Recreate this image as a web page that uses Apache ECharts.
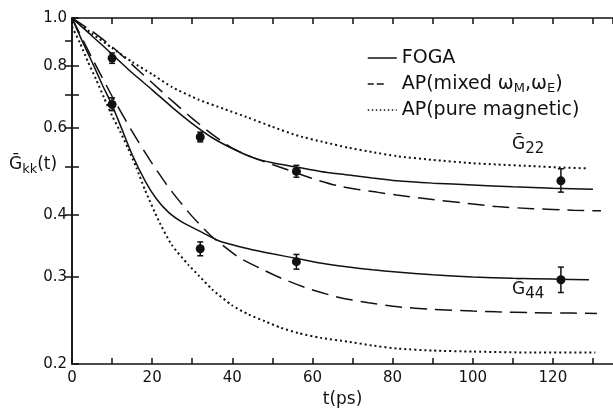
<!DOCTYPE html>
<html>
<head>
<meta charset="utf-8">
<script src="https://cdn.jsdelivr.net/npm/echarts@6/dist/echarts.min.js"></script>
<style>
html, body { margin: 0; padding: 0; background: #fff; }
#chart { width: 613px; height: 413px; }
</style>
</head>
<body>
<div id="chart"></div>
<script>
// tick marks of the log axis
const yTickValues = [0.2, 0.3, 0.4, 0.5, 0.6, 0.7, 0.8, 1.0]
const yLabelValues = [0.2, 0.3, 0.4, 0.6, 0.8, 1.0]
const yRightTicks = [0.3, 0.4, 0.5, 0.6, 0.7, 0.8, 0.9]

// FOGA, G22
const tFoga22 = [0, 5, 10, 15, 20, 25, 30, 35, 40, 45, 50, 56, 62, 69, 75, 81, 90, 100, 110, 120, 130]
const gFoga22 = [1.0, 0.92, 0.845, 0.775, 0.716, 0.66, 0.612, 0.573, 0.545, 0.523, 0.51, 0.5, 0.49, 0.482, 0.475, 0.469, 0.464, 0.46, 0.456, 0.453, 0.451]
// AP mixed, G22
const tMixed22 = [0, 5, 10, 15, 20, 25, 30, 35, 40, 45, 50, 55, 60, 66, 71, 76, 81, 90, 100, 106, 115, 125, 132]
const gMixed22 = [1.0, 0.94, 0.875, 0.805, 0.74, 0.68, 0.627, 0.582, 0.546, 0.523, 0.506, 0.49, 0.474, 0.459, 0.451, 0.445, 0.439, 0.43, 0.421, 0.416, 0.412, 0.409, 0.408]
// AP pure magnetic, G22
const tPure22 = [0, 5, 10, 15, 20, 25, 31.6, 38, 44, 50, 56.5, 63, 69, 75, 81, 90, 100, 106, 115, 122, 128.6]
const gPure22 = [1.0, 0.93, 0.87, 0.815, 0.77, 0.725, 0.684, 0.655, 0.629, 0.603, 0.578, 0.561, 0.547, 0.536, 0.526, 0.517, 0.509, 0.506, 0.502, 0.499, 0.497]

// FOGA, G44
const tFoga44 = [0, 2.5, 5, 7.5, 10, 12.5, 15, 18.3, 21, 24.1, 27.5, 31.6, 36.6, 44, 50, 56, 62, 69, 75, 81, 90, 100, 110, 120, 129]
const gFoga44 = [1.0, 0.9, 0.815, 0.735, 0.667, 0.595, 0.53, 0.468, 0.432, 0.405, 0.387, 0.372, 0.355, 0.342, 0.334, 0.327, 0.32, 0.314, 0.31, 0.307, 0.303, 0.3, 0.298, 0.297, 0.296]
// AP mixed, G44
const tMixed44 = [0, 5, 10, 15, 19.2, 24.1, 29.1, 31.6, 34.9, 41.5, 47, 52.3, 59, 66.4, 74, 81.3, 90, 100, 106, 115, 125, 131]
const gMixed44 = [1.0, 0.83, 0.695, 0.59, 0.52, 0.455, 0.405, 0.385, 0.362, 0.329, 0.312, 0.298, 0.284, 0.273, 0.266, 0.261, 0.258, 0.256, 0.255, 0.254, 0.2535, 0.253]
// AP pure magnetic, G44
const tPure44 = [0, 2, 4, 6, 8, 10, 12, 14, 16, 18.3, 21.6, 24.9, 29.1, 31.6, 35, 39.9, 44, 48.2, 52, 56.5, 62, 68.9, 75, 81.3, 90, 100, 115, 130.6]
const gPure44 = [0.96, 0.89, 0.815, 0.752, 0.69, 0.635, 0.59, 0.545, 0.5, 0.448, 0.39, 0.348, 0.317, 0.302, 0.283, 0.263, 0.252, 0.244, 0.237, 0.231, 0.226, 0.222, 0.218, 0.215, 0.213, 0.212, 0.211, 0.211]

// measured points with error bars
const tExp = [10, 32, 56, 122]
const gExp22 = [0.83, 0.575, 0.49, 0.469]
const lowExp22 = [0.81, 0.562, 0.477, 0.445]
const highExp22 = [0.85, 0.588, 0.504, 0.496]
const gExp44 = [0.669, 0.342, 0.322, 0.296]
const lowExp44 = [0.65, 0.331, 0.311, 0.279]
const highExp44 = [0.69, 0.353, 0.333, 0.314]

const nameFoga = 'FOGA'
const nameMixed = 'AP(mixed ωM,ωE)'
const namePure = 'AP(pure magnetic)'

const black = '#111'
const font = 'DejaVu Sans'

const zip = (xs, ys) => xs.map((x, i) => [x, ys[i]])

const solid = { color: black, width: 1.5, type: 'solid' }
const dashed = { color: black, width: 1.5, type: [17, 8] }
const dotted = { color: black, width: 2, type: [2, 3] }

function curve (name, xs, ys, style) {
  return {
    name: name,
    type: 'line',
    data: zip(xs, ys),
    symbol: 'none',
    showSymbol: false,
    smooth: 0.2,
    color: black,
    lineStyle: style,
    silent: true,
    animation: false
  }
}

function errorBars (xs, lows, highs) {
  return {
    type: 'custom',
    data: xs.map((x, i) => [x, lows[i], highs[i]]),
    encode: { x: 0, y: [1, 2] },
    silent: true,
    animation: false,
    renderItem: (params, api) => {
      const x = api.value(0)
      const p1 = api.coord([x, api.value(1)])
      const p2 = api.coord([x, api.value(2)])
      const st = { stroke: black, lineWidth: 1.5 }
      return {
        type: 'group',
        children: [
          { type: 'line', shape: { x1: p1[0], y1: p1[1], x2: p2[0], y2: p2[1] }, style: st },
          { type: 'line', shape: { x1: p1[0] - 3, y1: p1[1], x2: p1[0] + 3, y2: p1[1] }, style: st },
          { type: 'line', shape: { x1: p2[0] - 3, y1: p2[1], x2: p2[0] + 3, y2: p2[1] }, style: st }
        ]
      }
    }
  }
}

function points (xs, ys) {
  return {
    type: 'scatter',
    data: zip(xs, ys),
    symbolSize: 9,
    itemStyle: { color: black, opacity: 1 },
    silent: true,
    animation: false
  }
}

const axisLine = { show: true, lineStyle: { color: black, width: 1.5 } }

const chart = echarts.init(document.getElementById('chart'))
chart.setOption({
  backgroundColor: '#fff',
  animation: false,
  grid: { left: 72, top: 18, width: 543, height: 348 },
  legend: {
    orient: 'vertical',
    left: 362,
    top: 42,
    itemWidth: 29,
    itemHeight: 14,
    itemGap: 4,
    selectedMode: false,
    itemStyle: { opacity: 0 },
    textStyle: {
      fontFamily: font,
      fontSize: 19,
      color: black,
      lineHeight: 22,
      rich: {
        s: { fontFamily: font, fontSize: 13, color: black, verticalAlign: 'bottom', lineHeight: 22, padding: [8, 0, 0, 0] }
      }
    },
    formatter: (name) => name === nameMixed ? 'AP(mixed ω{s|M},ω{s|E})' : name,
    data: [
      { name: nameFoga, lineStyle: { type: 'solid', width: 1.5 } },
      { name: nameMixed, lineStyle: { type: [6, 3, 7, 13], width: 1.5 } },
      { name: namePure, lineStyle: { type: [1.5, 2.5], width: 1.5 } }
    ]
  },
  xAxis: [
    {
      type: 'value',
      position: 'bottom',
      min: 0,
      max: 135,
      interval: 10,
      name: 't(ps)',
      nameLocation: 'middle',
      nameGap: 26,
      nameTextStyle: { fontFamily: font, fontSize: 17, color: black },
      axisLine: axisLine,
      axisTick: { show: true, inside: true, length: 6, lineStyle: { color: black, width: 1.5 } },
      axisLabel: {
        fontFamily: font,
        fontSize: 15,
        color: black,
        margin: 7,
        showMaxLabel: false,
        formatter: (v) => (v % 20 === 0 ? String(v) : '')
      },
      splitLine: { show: false }
    },
    {
      type: 'value',
      position: 'top',
      min: 0,
      max: 135,
      interval: 10,
      axisLine: axisLine,
      axisTick: { show: true, inside: true, length: 6, lineStyle: { color: black, width: 1.5 } },
      axisLabel: { show: false },
      splitLine: { show: false }
    }
  ],
  yAxis: [
    {
      type: 'log',
      logBase: 10,
      position: 'left',
      min: 0.2,
      max: 1.0,
      axisLine: axisLine,
      axisTick: { show: true, inside: true, length: 7, customValues: yTickValues, lineStyle: { color: black, width: 1.5 } },
      axisLabel: {
        customValues: yLabelValues,
        fontFamily: font,
        fontSize: 15,
        color: black,
        margin: 5,
        formatter: (v) => Number(v).toFixed(1)
      },
      splitLine: { show: false }
    },
    {
      type: 'log',
      logBase: 10,
      position: 'right',
      min: 0.2,
      max: 1.0,
      axisLine: axisLine,
      axisTick: { show: true, inside: true, length: 7, customValues: yRightTicks, lineStyle: { color: black, width: 1.5 } },
      axisLabel: { show: false },
      splitLine: { show: false }
    }
  ],
  graphic: [
    {
      type: 'text',
      left: 9,
      top: 156,
      style: {
        text: 'Ḡ{s|kk}(t)',
        fontFamily: font,
        fontSize: 17,
        fill: black,
        rich: { s: { fontFamily: font, fontSize: 13, fill: black, padding: [10, 0, 0, 0] } }
      }
    },
    {
      type: 'text',
      left: 512,
      top: 136,
      style: {
        text: 'Ḡ{s|22}',
        fontFamily: font,
        fontSize: 17,
        fill: black,
        rich: { s: { fontFamily: font, fontSize: 15, fill: black, padding: [10, 0, 0, 0] } }
      }
    },
    {
      type: 'text',
      left: 512,
      top: 281,
      style: {
        text: 'Ḡ{s|44}',
        fontFamily: font,
        fontSize: 17,
        fill: black,
        rich: { s: { fontFamily: font, fontSize: 15, fill: black, padding: [10, 0, 0, 0] } }
      }
    }
  ],
  series: [
    curve(nameFoga, tFoga22, gFoga22, solid),
    curve(nameMixed, tMixed22, gMixed22, dashed),
    curve(namePure, tPure22, gPure22, dotted),
    curve(nameFoga, tFoga44, gFoga44, solid),
    curve(nameMixed, tMixed44, gMixed44, dashed),
    curve(namePure, tPure44, gPure44, dotted),
    errorBars(tExp, lowExp22, highExp22),
    errorBars(tExp, lowExp44, highExp44),
    points(tExp, gExp22),
    points(tExp, gExp44)
  ]
})
</script>
</body>
</html>
